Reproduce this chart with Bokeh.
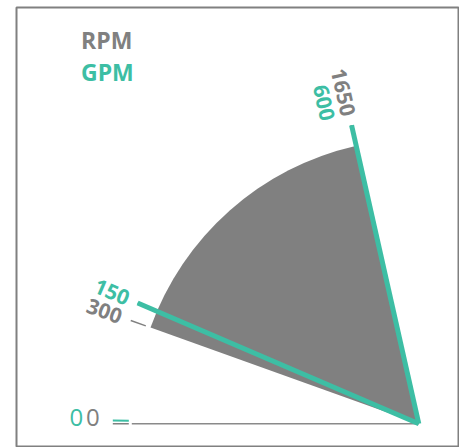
import numpy as np
from bokeh.plotting import figure
from bokeh.models import Range1d, Label, ColumnDataSource
from bokeh.core.properties import value
from bokeh.embed import file_html
from bokeh.resources import INLINE

# ---------------- data ----------------
SERIES = ["RPM", "GPM"]
RPM_TICKS = [0, 300, 1650]
GPM_TICKS = [0, 150, 600]
RPM_RANGE = [300, 1650]
GPM_RANGE = [150, 600]

GRAY = "#808080"
TEAL = "#3dbea4"
FONT = "Open Sans"
FS = 21      # rotated tick labels
FS0 = 24     # zero labels


# angular scales (degrees measured up from the left horizontal)
def rpm_deg(v):
    return 90.0 * (v / 2000.0) ** 0.8


def gpm_deg(v):
    return 0.6 + 89.4 * (v / 714.0) ** 0.88


def polar(r, deg):
    a = np.radians(deg)
    return -r * np.cos(a), r * np.sin(a)


R_WEDGE = 285
R_AXIS = 287
R_TICK0, R_TICK1 = 290, 306
R_RAY = 306
R_LABEL = 316

p = figure(width=459, height=447, output_backend="svg", toolbar_location=None,
           title=None, x_axis_type=None, y_axis_type=None,
           x_range=Range1d(-402.3, 40.7), y_range=Range1d(-23.7, 416.3),
           min_border_left=16, min_border_right=0, min_border_top=7, min_border_bottom=0)
p.grid.visible = False
p.outline_line_color = GRAY
p.outline_line_width = 2
p.background_fill_color = "white"
p.border_fill_color = "white"

# RPM wedge
p.wedge(x=0, y=0, radius=R_WEDGE,
        start_angle=np.radians(180 - rpm_deg(RPM_RANGE[1])),
        end_angle=np.radians(180 - rpm_deg(RPM_RANGE[0])),
        direction="anticlock", fill_color=GRAY, line_color=None)

# RPM zero axis line
ax, ay = polar(R_AXIS, rpm_deg(RPM_TICKS[0]))
p.segment(x0=[0], y0=[0], x1=[ax], y1=[ay], line_color="#8a8a8a", line_width=1.5)

# ticks
def tick_src(vals, fn):
    x0, y0, x1, y1 = [], [], [], []
    for v in vals:
        a, b = polar(R_TICK0, fn(v))
        c, d = polar(R_TICK1, fn(v))
        x0.append(a); y0.append(b); x1.append(c); y1.append(d)
    return dict(x0=x0, y0=y0, x1=x1, y1=y1)

p.segment(source=ColumnDataSource(tick_src(GPM_TICKS, gpm_deg)), x0="x0", y0="y0", x1="x1", y1="y1",
          line_color=TEAL, line_width=2)
p.segment(source=ColumnDataSource(tick_src(RPM_TICKS, rpm_deg)), x0="x0", y0="y0", x1="x1", y1="y1",
          line_color=GRAY, line_width=1.5)

# GPM range rays
rx, ry = [], []
for v in GPM_RANGE:
    a, b = polar(R_RAY, gpm_deg(v))
    rx.append(a); ry.append(b)
p.segment(x0=[0, 0], y0=[0, 0], x1=rx, y1=ry, line_color=TEAL, line_width=5)

# labels
labels = []  # (text, x, y, angle, color, bold)
gray_pos = {}
for v in RPM_TICKS:
    d = rpm_deg(v)
    if v == 0:  # sit above the axis line
        x, y = polar(R_LABEL + 3, d)
        x, y = x + 6.6 * np.sin(np.radians(d)), y + 6.6 * np.cos(np.radians(d))
    else:
        x, y = polar(R_LABEL, d)
    gray_pos[v] = (d, x, y, str(v))
    labels.append((str(v), x, y, -np.radians(d), GRAY, v != 0))

for v in GPM_TICKS:
    d = gpm_deg(v)
    x, y = polar(R_LABEL, d)
    ang = -np.radians(d)
    for gd, gx, gy, gtxt in gray_pos.values():
        if abs(gd - d) < 1.0:
            if gd < 10:  # stack outward along the same line
                shift = len(gtxt) * 0.57 * FS0 + 3
                x, y = gx - shift * np.cos(np.radians(gd)), gy + shift * np.sin(np.radians(gd))
                ang = -np.radians(gd)
            else:  # shift sideways toward the horizontal
                x, y = x - 22 * np.sin(np.radians(d)), y - 22 * np.cos(np.radians(d))
    labels.append((str(v), x, y, ang, TEAL, v != 0))

for bold in (True, False):
    rows = [l for l in labels if l[5] == bold]
    src = ColumnDataSource(dict(text=[r[0] for r in rows], x=[r[1] for r in rows], y=[r[2] for r in rows],
                                angle=[r[3] for r in rows], color=[r[4] for r in rows]))
    p.text(source=src, x="x", y="y", text="text", angle="angle", text_color="color",
           text_align="right", text_baseline="middle", text_font=value(FONT),
           text_font_size=f"{FS if bold else FS0}px", text_font_style="bold" if bold else "normal")

# legend texts
for i, (name, col) in enumerate(zip(SERIES, [GRAY, TEAL])):
    p.add_layout(Label(x=-337.8, y=383.6 - i * 31.6, text=name, text_color=col,
                       text_font=FONT, text_font_size="23px", text_font_style="bold",
                       text_baseline="alphabetic", text_align="left"))

open("out.html", "w").write(file_html(p, INLINE))
